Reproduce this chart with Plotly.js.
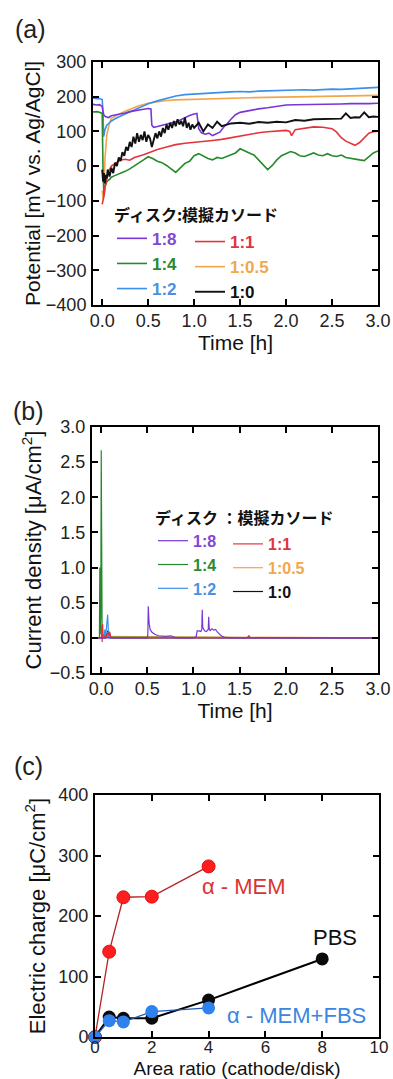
<!DOCTYPE html>
<html>
<head>
<meta charset="utf-8">
<script src="https://cdn.plot.ly/plotly-3.0.1.min.js"></script>
<style>
html,body{margin:0;padding:0;background:#fff;}
#chart{width:393px;height:1079px;}
</style>
</head>
<body>
<div id="chart"></div>
<script>
// ---------- Series names / colours ----------
const seriesNames = ['1:8', '1:4', '1:2', '1:1', '1:0.5', '1:0'];
const lineColors  = ['#7a35d6', '#268a2c', '#3c90ec', '#e3343c', '#f2a64c', '#111111'];
const textColors  = ['#8444d4', '#2a8a30', '#4a90e2', '#e0343e', '#f0a84a', '#111111'];

// ---------- (a) Potential [mV vs. Ag/AgCl] vs time [h] ----------
const tP_18 = [-0.1, -0.06, -0.03, 0.0, 0.01, 0.02, 0.04, 0.07, 0.1, 0.15,
               0.2, 0.25, 0.3, 0.35, 0.4, 0.45, 0.5, 0.53, 0.54, 0.56,
               0.6, 0.65, 0.7, 0.75, 0.8, 0.85, 0.9, 0.95, 1.0, 1.03,
               1.05, 1.08, 1.12, 1.16, 1.2, 1.24, 1.28, 1.32, 1.36, 1.4,
               1.45, 1.5, 1.55, 1.6, 1.65, 1.7, 1.8, 1.9, 2.0, 2.1,
               2.2, 2.3, 2.4, 2.5, 2.6, 2.7, 2.8, 2.9, 3.0];
const vP_18 = [178, 176, 177, 172, 155, 146, 142, 140, 145, 147,
               150, 153, 157, 160, 162, 164, 166, 165, 118, 112,
               114, 117, 120, 124, 128, 133, 140, 146, 150, 152,
               108, 96, 92, 95, 88, 93, 98, 112, 122, 135,
               148, 155, 158, 160, 162, 165, 168, 172, 176, 177,
               177, 178, 178, 179, 179, 180, 179, 180, 181];

const tP_14 = [-0.1, -0.06, -0.03, 0.0, 0.01, 0.02, 0.03, 0.05, 0.08, 0.1,
               0.13, 0.16, 0.2, 0.25, 0.3, 0.35, 0.4, 0.45, 0.5, 0.55,
               0.6, 0.65, 0.7, 0.75, 0.8, 0.85, 0.9, 0.95, 1.0, 1.05,
               1.1, 1.15, 1.2, 1.25, 1.3, 1.35, 1.4, 1.45, 1.5, 1.55,
               1.6, 1.65, 1.7, 1.75, 1.8, 1.85, 1.9, 1.95, 2.0, 2.05,
               2.1, 2.15, 2.2, 2.25, 2.3, 2.35, 2.4, 2.45, 2.5, 2.55,
               2.6, 2.65, 2.7, 2.75, 2.8, 2.85, 2.9, 2.95, 3.0];
const vP_14 = [156, 157, 155, 152, -30, -85, -60, -45, -38, -32,
               -28, -25, -20, -15, -8, 0, 8, 18, 27, 22,
               14, 10, 2, -8, -18, -5, 8, 14, 30, 36,
               28, 22, 18, 25, 22, 28, 32, 38, 50, 45,
               38, 32, 18, 2, -10, 2, 18, 30, 36, 42,
               38, 30, 28, 34, 38, 32, 30, 36, 30, 28,
               32, 25, 22, 20, 18, 16, 28, 38, 44];

const tP_12 = [-0.1, -0.06, -0.03, 0.0, 0.01, 0.015, 0.02, 0.03, 0.05, 0.08,
               0.1, 0.15, 0.2, 0.25, 0.3, 0.35, 0.4, 0.5, 0.6, 0.7,
               0.8, 0.9, 1.0, 1.1, 1.2, 1.3, 1.4, 1.5, 1.6, 1.7,
               1.8, 1.9, 2.0, 2.1, 2.2, 2.3, 2.4, 2.5, 2.6, 2.7,
               2.8, 2.9, 3.0];
const vP_12 = [196, 194, 195, 192, 150, 85, 90, 105, 118, 125,
               130, 138, 145, 150, 156, 162, 170, 180, 188, 196,
               202, 206, 208, 210, 211, 213, 214, 215, 214, 216,
               217, 218, 217, 219, 220, 219, 221, 222, 221, 223,
               224, 225, 227];

const tP_11 = [0.0, 0.01, 0.02, 0.03, 0.05, 0.07, 0.1, 0.15, 0.2, 0.25,
               0.3, 0.35, 0.4, 0.45, 0.5, 0.55, 0.6, 0.7, 0.8, 0.9,
               1.0, 1.1, 1.2, 1.3, 1.4, 1.5, 1.6, 1.7, 1.8, 1.9,
               2.0, 2.04, 2.06, 2.1, 2.2, 2.3, 2.4, 2.5, 2.55, 2.6,
               2.65, 2.7, 2.75, 2.8, 2.85, 2.9, 2.95, 3.0];
const vP_11 = [-110, -100, -85, -60, -35, -15, 0, 10, 18, 20,
               17, 25, 28, 33, 38, 44, 48, 55, 62, 66,
               68, 71, 74, 77, 82, 86, 91, 96, 99, 101,
               103, 100, 88, 105, 110, 113, 112, 108, 98, 82,
               72, 66, 60, 68, 82, 95, 99, 101];

const tP_105 = [0.0, 0.01, 0.02, 0.03, 0.05, 0.08, 0.1, 0.15, 0.2, 0.25,
                0.3, 0.4, 0.5, 0.6, 0.7, 0.8, 1.0, 1.2, 1.4, 1.6,
                1.8, 2.0, 2.2, 2.4, 2.6, 2.8, 3.0];
const vP_105 = [-70, -95, -60, 20, 90, 125, 138, 146, 152, 158,
                164, 174, 181, 186, 189, 191, 193, 194, 196, 197,
                198, 199, 200, 201, 202, 203, 204];

const tP_10 = [0.0, 0.01, 0.02, 0.03, 0.04, 0.05, 0.06, 0.08, 0.1, 0.12,
               0.14, 0.16, 0.18, 0.2, 0.22, 0.24, 0.26, 0.28, 0.3, 0.32,
               0.34, 0.36, 0.38, 0.4, 0.42, 0.44, 0.46, 0.48, 0.5, 0.52,
               0.54, 0.56, 0.58, 0.6, 0.62, 0.64, 0.66, 0.68, 0.7, 0.72,
               0.74, 0.76, 0.78, 0.8, 0.82, 0.84, 0.86, 0.88, 0.9, 0.92,
               0.94, 0.96, 0.98, 1.0, 1.05, 1.1, 1.15, 1.2, 1.25, 1.3,
               1.35, 1.4, 1.5, 1.6, 1.7, 1.8, 1.9, 2.0, 2.1, 2.2,
               2.3, 2.4, 2.5, 2.6, 2.65, 2.7, 2.75, 2.8, 2.85, 2.9,
               2.95, 3.0];
const vP_10 = [-10, -45, -20, -50, -25, -35, -10, -30, -5, -20,
               10, 0, 25, 15, 40, 30, 55, 45, 70, 55,
               85, 65, 95, 70, 90, 75, 100, 70, 90, 80,
               55, 75, 95, 80, 100, 85, 110, 95, 120, 105,
               125, 110, 130, 115, 135, 120, 130, 115, 140, 110,
               125, 105, 120, 110, 125, 100, 120, 110, 128, 115,
               120, 123, 125, 122, 127, 125, 128, 126, 133, 131,
               135, 136, 138, 137, 152, 139, 141, 140, 155, 141,
               143, 142];

// ---------- (b) Current density [uA/cm2] vs time [h] ----------
const tJ_18 = [-0.1, 0.5, 0.505, 0.51, 0.515, 0.52, 0.53, 0.55, 0.58, 0.62,
               0.66, 0.7, 0.75, 0.78, 0.8, 1.0, 1.03, 1.04, 1.06, 1.08,
               1.09, 1.095, 1.1, 1.12, 1.14, 1.16, 1.165, 1.17, 1.18, 1.2,
               1.22, 1.24, 1.26, 1.28, 1.3, 1.33, 1.4, 3.0];
const vJ_18 = [0, 0, 0.05, 0.45, 0.3, 0.2, 0.12, 0.08, 0.05, 0.03,
               0.02, 0.02, 0.03, 0.02, 0, 0, 0.02, 0.1, 0.1, 0.09,
               0.12, 0.4, 0.15, 0.1, 0.09, 0.12, 0.3, 0.14, 0.1, 0.13,
               0.11, 0.12, 0.08, 0.05, 0.03, 0.01, 0, 0];
const tJ_14 = [-0.1, -0.02, -0.015, -0.01, -0.005, 0.0, 0.005, 0.01, 0.02, 0.03, 3.0];
const vJ_14 = [0, 0, 1.0, 0.05, 0.3, 2.67, 0.1, 0.02, 0, 0.01, 0];
const tJ_12 = [-0.1, 0.03, 0.04, 0.045, 0.05, 0.07, 0.075, 0.08, 0.09, 3.0];
const vJ_12 = [0, 0, 0.12, 0.02, 0.05, 0.33, 0.05, 0.02, 0, 0];
const tJ_11 = [-0.1, 0.0, 0.005, 0.01, 0.015, 0.02, 0.03, 0.06, 0.07, 0.08,
               0.09, 0.1, 0.12, 0.3, 0.32, 0.8, 0.82, 1.58, 1.6, 1.62, 3.0];
const vJ_11 = [0, 0, 0.18, -0.06, 0.2, 0.05, 0.02, 0.02, 0.08, 0.03,
               0.09, 0.02, 0, 0, 0.01, 0, 0.01, 0, 0.03, 0, 0];
const tJ_105 = [-0.1, 0.02, 0.03, 3.0];
const vJ_105 = [0, 0, 0.02, 0];
const tJ_10 = [-0.1, 0.05, 0.06, 0.07, 0.08, 0.09, 0.1, 3.0];
const vJ_10 = [0, 0, 0.05, 0.1, 0.04, 0.08, 0, 0];

// ---------- (c) Electric charge [uC/cm2] vs area ratio ----------
const ratioMEM = [0, 0.5, 1, 2, 4];
const chargeMEM = [0, 141, 231, 232, 282];
const ratioPBS = [0, 0.5, 1, 2, 4, 8];
const chargePBS = [0, 33, 31, 31, 61, 129];
const ratioFBS = [0, 0.5, 1, 2, 4];
const chargeFBS = [0, 27, 25, 42, 48];

const xTicksTime = [0, 0.5, 1, 1.5, 2, 2.5, 3];
const yTicksPot = [-400, -300, -200, -100, 0, 100, 200, 300];
const yTicksCur = [-0.5, 0, 0.5, 1, 1.5, 2, 2.5, 3];
const xTicksRatio = [0, 2, 4, 6, 8, 10];
const yTicksCharge = [0, 100, 200, 300, 400];

// ---------- build ----------
const W = 393, H = 1079;
const px = v => v / W;
const py = v => 1 - v / H;

const potT = [tP_18, tP_14, tP_12, tP_11, tP_105, tP_10];
const potV = [vP_18, vP_14, vP_12, vP_11, vP_105, vP_10];
const curT = [tJ_18, tJ_14, tJ_12, tJ_11, tJ_105, tJ_10];
const curV = [vJ_18, vJ_14, vJ_12, vJ_11, vJ_105, vJ_10];
const legA = ['legend', 'legend', 'legend', 'legend2', 'legend2', 'legend2'];
const legB = ['legend3', 'legend3', 'legend3', 'legend4', 'legend4', 'legend4'];
const drawOrder = [4, 2, 1, 3, 0, 5];   // orange, blue, green, red, purple, black on top

const label = i => '<span style="color:' + textColors[i] + '">' + seriesNames[i] + '</span>';

const traces = [];
drawOrder.forEach(i => {
  traces.push({
    type: 'scatter', mode: 'lines', x: potT[i], y: potV[i],
    xaxis: 'x', yaxis: 'y', name: label(i), legend: legA[i], legendrank: i + 1,
    line: {color: lineColors[i], width: i === 5 ? 1.9 : 1.6}
  });
});
const drawOrderB = [4, 5, 1, 2, 3, 0];
drawOrderB.forEach(i => {
  traces.push({
    type: 'scatter', mode: 'lines', x: curT[i], y: curV[i],
    xaxis: 'x2', yaxis: 'y2', name: label(i), legend: legB[i], legendrank: i + 1,
    line: {color: lineColors[i], width: 1.2}
  });
});
traces.push({type: 'scatter', mode: 'lines+markers', x: ratioMEM, y: chargeMEM, xaxis: 'x3', yaxis: 'y3',
  name: 'α-MEM', showlegend: false, cliponaxis: false,
  line: {color: '#b52222', width: 1.3}, marker: {color: '#ff1e1e', size: 13, line: {color: '#e01010', width: 1}}});
traces.push({type: 'scatter', mode: 'lines+markers', x: ratioPBS, y: chargePBS, xaxis: 'x3', yaxis: 'y3',
  name: 'PBS', showlegend: false, cliponaxis: false,
  line: {color: '#000', width: 2}, marker: {color: '#0a0a0a', size: 13}});
traces.push({type: 'scatter', mode: 'lines+markers', x: ratioFBS, y: chargeFBS, xaxis: 'x3', yaxis: 'y3',
  name: 'α-MEM+FBS', showlegend: false, cliponaxis: false,
  line: {color: '#1f5cb0', width: 1.3}, marker: {color: '#2f82ee', size: 13}});

const FAM = 'Liberation Sans, Arial, sans-serif';
const tickFont = {family: FAM, size: 18, color: '#222'};
const titleFont = {family: FAM, size: 21, color: '#111'};
const titleFont22 = {family: FAM, size: 22, color: '#111'};
const baseAxis = {
  showline: true, linecolor: '#000', linewidth: 2, mirror: 'ticks',
  ticks: 'inside', ticklen: 6, tickwidth: 2, tickcolor: '#000',
  showgrid: false, zeroline: false, tickfont: tickFont, automargin: false
};
const legItemFont = {family: FAM, size: 17, color: '#111', weight: 'bold'};
const legItemFontB = {family: FAM, size: 16, color: '#111', weight: 'bold'};
const legTitleFont = {family: 'Noto Sans CJK JP, sans-serif', size: 16, color: '#111', weight: 'bold'};
const legBase = {xanchor: 'left', yanchor: 'top', bgcolor: 'rgba(0,0,0,0)', borderwidth: 0,
  font: legItemFont, itemwidth: 30, tracegroupgap: 0, itemclick: false, itemdoubleclick: false};

const layout = {
  width: W, height: H,
  margin: {l: 0, r: 0, t: 0, b: 0},
  paper_bgcolor: '#fff', plot_bgcolor: '#fff',
  showlegend: true,
  xaxis: Object.assign({}, baseAxis, {domain: [px(93), px(378)], anchor: 'y', range: [-0.1, 3.0],
    tickvals: xTicksTime, tickformat: '.1f', ticklabelstandoff: -2,
    title: {text: 'Time [h]', font: titleFont, standoff: 4}}),
  yaxis: Object.assign({}, baseAxis, {domain: [py(305), py(62)], anchor: 'x', range: [-400, 300],
    tickvals: yTicksPot, ticklabelstandoff: 1,
    title: {text: 'Potential [mV vs. Ag/AgCl]', font: titleFont, standoff: 0}}),
  xaxis2: Object.assign({}, baseAxis, {domain: [px(92), px(378)], anchor: 'y2', range: [-0.1, 3.0],
    tickvals: xTicksTime, tickformat: '.1f', ticklabelstandoff: -2,
    title: {text: 'Time [h]', font: titleFont, standoff: 4}}),
  yaxis2: Object.assign({}, baseAxis, {domain: [py(673), py(427)], anchor: 'x2', range: [-0.5, 3.0],
    tickvals: yTicksCur, tickformat: '.1f', ticklabelstandoff: 1,
    title: {text: 'Current density [μA/cm<sup>2</sup>]', font: titleFont22, standoff: 2}}),
  xaxis3: Object.assign({}, baseAxis, {domain: [px(95), px(379)], anchor: 'y3', range: [0, 10],
    tickvals: xTicksRatio, ticklabelstandoff: -6, tickfont: Object.assign({}, tickFont, {size: 17}),
    title: {text: 'Area ratio (cathode/disk)', font: {family: FAM, size: 19, color: '#111'}, standoff: 17}}),
  yaxis3: Object.assign({}, baseAxis, {domain: [py(1037), py(795)], anchor: 'x3', range: [0, 400],
    tickvals: yTicksCharge, ticklabelstandoff: 1,
    title: {text: 'Electric charge [μC/cm<sup>2</sup>]', font: titleFont22, standoff: 7}}),
  legend: Object.assign({}, legBase, {x: px(112), y: py(200),
    title: {text: 'ディスク:模擬カソード', font: legTitleFont}}),
  legend2: Object.assign({}, legBase, {x: px(190), y: py(224)}),
  legend3: Object.assign({}, legBase, {x: px(153), y: py(503), font: legItemFontB,
    title: {text: 'ディスク ：模擬カソード', font: legTitleFont}}),
  legend4: Object.assign({}, legBase, {x: px(228), y: py(527), font: legItemFontB}),
  annotations: [
    {xref: 'paper', yref: 'paper', x: px(30), y: py(29), xanchor: 'center', yanchor: 'middle',
      text: '(a)', showarrow: false, font: {family: FAM, size: 25, color: '#222'}},
    {xref: 'paper', yref: 'paper', x: px(28), y: py(411), xanchor: 'center', yanchor: 'middle',
      text: '(b)', showarrow: false, font: {family: FAM, size: 25, color: '#222'}},
    {xref: 'paper', yref: 'paper', x: px(28), y: py(766), xanchor: 'center', yanchor: 'middle',
      text: '(c)', showarrow: false, font: {family: FAM, size: 25, color: '#222'}},
    {xref: 'x3', yref: 'y3', x: 5.25, y: 248, text: 'α - MEM', showarrow: false,
      font: {family: FAM, size: 22, color: '#d83434'}},
    {xref: 'x3', yref: 'y3', x: 8.45, y: 164, text: 'PBS', showarrow: false,
      font: {family: FAM, size: 22, color: '#111'}},
    {xref: 'x3', yref: 'y3', x: 7.08, y: 36, text: 'α - MEM+FBS', showarrow: false,
      font: {family: FAM, size: 22, color: '#3a86e0'}}
  ]
};

Plotly.newPlot('chart', traces, layout, {staticPlot: true, displayModeBar: false});
</script>
</body>
</html>
